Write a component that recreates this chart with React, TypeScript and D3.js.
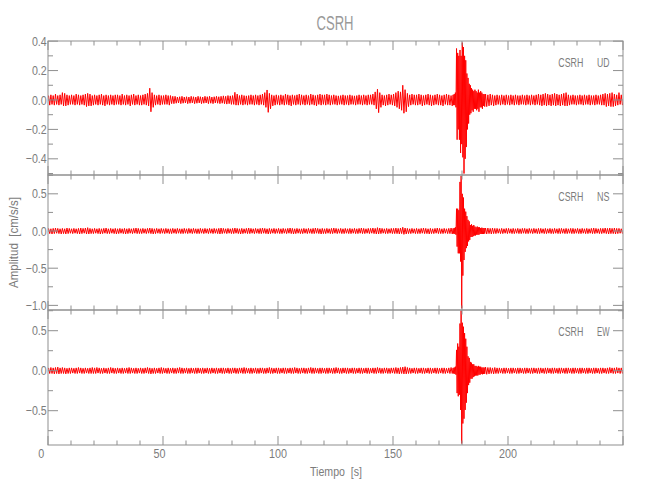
import React from 'react';
import * as d3 from 'd3';

// ---------------- data ----------------
const TITLE = 'CSRH';
const STATION = 'CSRH';
const CHANNELS = ['UD', 'NS', 'EW'];
const X_LABEL = 'Tiempo  [s]';
const Y_LABEL = 'Amplitud  [cm/s/s]';
const TIME_DOMAIN = [0, 250];
const X_TICKS = [0, 50, 100, 150, 200];

// segment timing: pre-event 1 s bins from 0, event 0.5 s bins from 176, post 1 s bins from 190
const PRE_T0 = 0, PRE_DT = 1;
const EV_T0 = 176, EV_DT = 0.5;
const POST_T0 = 190, POST_DT = 1;

// UD
const udDomain = [-0.51, 0.401];
const udTicks = [-0.4, -0.2, 0, 0.2, 0.4];
const udMinor = [-0.5, -0.3, -0.1, 0.1, 0.3];
const udPreHi = [
  0.03,0.035,0.03,0.04,0.03,0.035,0.05,0.045,0.035,0.03,
  0.035,0.03,0.04,0.035,0.03,0.035,0.04,0.045,0.04,0.03,
  0.035,0.03,0.035,0.04,0.03,0.035,0.03,0.035,0.03,0.035,
  0.035,0.03,0.04,0.03,0.035,0.03,0.035,0.04,0.03,0.035,
  0.03,0.035,0.04,0.045,0.08,0.05,0.035,0.03,0.035,0.03,
  0.03,0.035,0.03,0.03,0.025,0.025,0.02,0.022,0.025,0.02,
  0.022,0.02,0.025,0.022,0.02,0.025,0.022,0.02,0.025,0.022,
  0.025,0.02,0.022,0.025,0.022,0.025,0.028,0.025,0.03,0.028,
  0.03,0.052,0.04,0.03,0.035,0.03,0.028,0.03,0.035,0.03,
  0.035,0.03,0.035,0.04,0.05,0.068,0.045,0.035,0.03,0.035,
  0.03,0.035,0.03,0.04,0.035,0.03,0.035,0.03,0.035,0.04,
  0.035,0.03,0.035,0.03,0.04,0.035,0.03,0.035,0.04,0.035,
  0.035,0.04,0.035,0.03,0.035,0.03,0.028,0.03,0.035,0.03,
  0.03,0.035,0.03,0.028,0.03,0.035,0.03,0.035,0.03,0.035,
  0.035,0.04,0.055,0.073,0.05,0.035,0.03,0.035,0.04,0.035,
  0.04,0.05,0.06,0.055,0.1,0.07,0.045,0.035,0.04,0.035,
  0.035,0.04,0.035,0.03,0.035,0.04,0.035,0.03,0.035,0.04,
  0.035,0.03,0.035,0.04,0.035,0.03,
];
const udPreLo = [
  -0.035,-0.03,-0.035,-0.03,-0.035,-0.03,-0.04,-0.04,-0.035,-0.03,
  -0.03,-0.035,-0.03,-0.035,-0.03,-0.035,-0.045,-0.04,-0.04,-0.035,
  -0.03,-0.035,-0.03,-0.035,-0.04,-0.03,-0.035,-0.03,-0.035,-0.03,
  -0.03,-0.035,-0.03,-0.035,-0.03,-0.04,-0.03,-0.035,-0.03,-0.035,
  -0.035,-0.03,-0.035,-0.04,-0.08,-0.05,-0.035,-0.03,-0.035,-0.03,
  -0.03,-0.03,-0.035,-0.025,-0.025,-0.022,-0.02,-0.025,-0.022,-0.02,
  -0.025,-0.022,-0.02,-0.025,-0.022,-0.02,-0.025,-0.022,-0.02,-0.025,
  -0.022,-0.025,-0.02,-0.022,-0.025,-0.022,-0.025,-0.028,-0.025,-0.03,
  -0.03,-0.035,-0.035,-0.03,-0.035,-0.03,-0.035,-0.03,-0.03,-0.035,
  -0.03,-0.035,-0.03,-0.035,-0.05,-0.084,-0.06,-0.04,-0.035,-0.03,
  -0.035,-0.03,-0.035,-0.03,-0.035,-0.04,-0.03,-0.035,-0.03,-0.035,
  -0.03,-0.035,-0.03,-0.035,-0.03,-0.035,-0.04,-0.03,-0.035,-0.03,
  -0.035,-0.03,-0.035,-0.03,-0.03,-0.035,-0.03,-0.03,-0.035,-0.03,
  -0.035,-0.03,-0.03,-0.035,-0.03,-0.03,-0.035,-0.03,-0.035,-0.03,
  -0.03,-0.035,-0.06,-0.086,-0.05,-0.035,-0.04,-0.035,-0.03,-0.035,
  -0.04,-0.05,-0.06,-0.07,-0.09,-0.08,-0.045,-0.035,-0.03,-0.035,
  -0.035,-0.03,-0.04,-0.035,-0.03,-0.035,-0.04,-0.035,-0.03,-0.035,
  -0.035,-0.04,-0.03,-0.035,-0.035,-0.04,
];
const udEvHi = [
  0.035,0.04,0.05,0.35,0.32,0.3,0.34,0.3,0.39,0.36,0.3,0.27,0.18,0.15,
  0.11,0.1,0.08,0.07,0.06,0.07,0.06,0.05,0.07,0.05,0.06,0.05,0.04,0.04,
];
const udEvLo = [
  -0.035,-0.035,-0.05,-0.27,-0.2,-0.27,-0.36,-0.3,-0.39,-0.5,-0.4,-0.32,-0.2,-0.16,
  -0.1,-0.09,-0.07,-0.08,-0.06,-0.06,-0.07,-0.06,-0.08,-0.05,-0.05,-0.06,-0.04,-0.045,
];
const udPostHi = [
  0.04,0.035,0.04,0.035,0.03,0.035,0.03,0.035,0.03,0.035,
  0.03,0.035,0.03,0.035,0.03,0.03,0.035,0.03,0.035,0.03,
  0.035,0.03,0.035,0.04,0.035,0.04,0.045,0.04,0.035,0.04,
  0.045,0.04,0.035,0.04,0.045,0.05,0.035,0.03,0.035,0.03,
  0.03,0.035,0.03,0.035,0.03,0.035,0.03,0.03,0.035,0.03,
  0.035,0.04,0.045,0.04,0.045,0.05,0.04,0.035,0.05,0.035,
];
const udPostLo = [
  -0.045,-0.04,-0.035,-0.04,-0.035,-0.03,-0.035,-0.03,-0.035,-0.03,
  -0.035,-0.03,-0.035,-0.03,-0.035,-0.03,-0.03,-0.035,-0.03,-0.035,
  -0.03,-0.035,-0.03,-0.035,-0.04,-0.035,-0.04,-0.035,-0.04,-0.035,
  -0.04,-0.035,-0.04,-0.035,-0.04,-0.04,-0.035,-0.03,-0.03,-0.035,
  -0.03,-0.03,-0.035,-0.03,-0.03,-0.035,-0.03,-0.035,-0.03,-0.03,
  -0.035,-0.035,-0.045,-0.04,-0.045,-0.045,-0.04,-0.035,-0.03,-0.035,
];

// NS
const nsDomain = [-1.062, 0.753];
const nsTicks = [-1.0, -0.5, 0, 0.5];
const nsMinor = [-0.75, -0.25, 0.25, 0.75];
const nsPreHi = [
  0.035,0.03,0.035,0.04,0.035,0.03,0.035,0.03,0.04,0.035,
  0.03,0.035,0.03,0.035,0.04,0.035,0.04,0.045,0.035,0.03,
  0.035,0.03,0.035,0.03,0.035,0.04,0.03,0.035,0.03,0.035,
  0.03,0.035,0.03,0.035,0.03,0.035,0.03,0.035,0.04,0.035,
  0.03,0.035,0.03,0.035,0.04,0.035,0.03,0.035,0.03,0.035,
  0.03,0.035,0.03,0.03,0.035,0.03,0.035,0.03,0.03,0.035,
  0.03,0.035,0.03,0.035,0.03,0.03,0.035,0.03,0.035,0.03,
  0.035,0.03,0.035,0.03,0.035,0.04,0.035,0.03,0.035,0.03,
  0.035,0.04,0.035,0.03,0.035,0.03,0.035,0.04,0.035,0.03,
  0.035,0.03,0.035,0.04,0.035,0.03,0.035,0.03,0.035,0.03,
  0.035,0.03,0.035,0.03,0.035,0.04,0.035,0.03,0.035,0.03,
  0.03,0.035,0.03,0.035,0.03,0.035,0.04,0.035,0.03,0.035,
  0.03,0.035,0.03,0.035,0.04,0.035,0.03,0.035,0.03,0.035,
  0.03,0.035,0.03,0.035,0.03,0.035,0.04,0.035,0.03,0.035,
  0.035,0.04,0.035,0.045,0.04,0.035,0.03,0.035,0.03,0.035,
  0.035,0.04,0.035,0.04,0.05,0.04,0.035,0.03,0.035,0.03,
  0.035,0.03,0.035,0.04,0.035,0.03,0.035,0.03,0.035,0.04,
  0.035,0.03,0.035,0.03,0.035,0.04,
];
const nsPreLo = [
  -0.035,-0.04,-0.035,-0.03,-0.035,-0.04,-0.035,-0.04,-0.035,-0.03,
  -0.035,-0.03,-0.035,-0.04,-0.035,-0.03,-0.04,-0.04,-0.035,-0.035,
  -0.03,-0.035,-0.04,-0.035,-0.03,-0.035,-0.035,-0.03,-0.035,-0.04,
  -0.035,-0.03,-0.035,-0.04,-0.035,-0.03,-0.035,-0.03,-0.035,-0.035,
  -0.035,-0.03,-0.035,-0.03,-0.035,-0.04,-0.035,-0.03,-0.035,-0.03,
  -0.035,-0.03,-0.035,-0.035,-0.03,-0.035,-0.03,-0.035,-0.035,-0.03,
  -0.035,-0.03,-0.035,-0.03,-0.035,-0.035,-0.03,-0.035,-0.03,-0.035,
  -0.03,-0.035,-0.03,-0.035,-0.04,-0.035,-0.03,-0.035,-0.03,-0.035,
  -0.035,-0.03,-0.035,-0.04,-0.035,-0.03,-0.035,-0.035,-0.03,-0.035,
  -0.03,-0.035,-0.035,-0.03,-0.035,-0.04,-0.035,-0.03,-0.035,-0.03,
  -0.035,-0.035,-0.03,-0.035,-0.03,-0.035,-0.04,-0.035,-0.03,-0.035,
  -0.035,-0.03,-0.035,-0.03,-0.035,-0.035,-0.03,-0.035,-0.04,-0.035,
  -0.035,-0.03,-0.035,-0.035,-0.03,-0.035,-0.03,-0.035,-0.035,-0.03,
  -0.035,-0.035,-0.03,-0.035,-0.035,-0.03,-0.035,-0.035,-0.03,-0.035,
  -0.03,-0.035,-0.04,-0.04,-0.035,-0.03,-0.035,-0.035,-0.03,-0.035,
  -0.035,-0.035,-0.04,-0.035,-0.045,-0.04,-0.035,-0.035,-0.03,-0.035,
  -0.035,-0.035,-0.03,-0.035,-0.035,-0.04,-0.035,-0.035,-0.03,-0.035,
  -0.035,-0.035,-0.03,-0.035,-0.035,-0.04,
];
const nsEvHi = [
  0.035,0.04,0.05,0.3,0.3,0.28,0.66,0.74,0.5,0.45,0.3,0.26,0.2,0.15,
  0.13,0.08,0.09,0.07,0.08,0.06,0.05,0.06,0.05,0.05,0.04,0.045,0.04,0.04,
];
const nsEvLo = [
  -0.035,-0.04,-0.05,-0.21,-0.3,-0.3,-0.41,-1.04,-0.6,-0.39,-0.28,-0.23,-0.2,-0.14,
  -0.12,-0.08,-0.08,-0.07,-0.06,-0.06,-0.05,-0.05,-0.05,-0.04,-0.04,-0.04,-0.04,-0.035,
];
const nsPostHi = [
  0.04,0.04,0.035,0.04,0.035,0.035,0.03,0.035,0.03,0.035,
  0.035,0.03,0.035,0.03,0.035,0.03,0.035,0.035,0.03,0.035,
  0.03,0.035,0.03,0.035,0.035,0.03,0.035,0.03,0.035,0.03,
  0.035,0.03,0.035,0.035,0.03,0.035,0.03,0.035,0.035,0.03,
  0.035,0.03,0.035,0.03,0.035,0.03,0.035,0.04,0.035,0.03,
  0.035,0.035,0.04,0.035,0.04,0.035,0.04,0.035,0.035,0.03,
];
const nsPostLo = [
  -0.04,-0.035,-0.04,-0.035,-0.035,-0.03,-0.035,-0.035,-0.03,-0.035,
  -0.03,-0.035,-0.035,-0.03,-0.035,-0.035,-0.03,-0.035,-0.035,-0.03,
  -0.035,-0.03,-0.035,-0.035,-0.03,-0.035,-0.035,-0.03,-0.035,-0.035,
  -0.03,-0.035,-0.035,-0.03,-0.035,-0.035,-0.03,-0.035,-0.035,-0.03,
  -0.035,-0.035,-0.03,-0.035,-0.035,-0.03,-0.035,-0.035,-0.03,-0.035,
  -0.035,-0.03,-0.035,-0.04,-0.035,-0.035,-0.04,-0.035,-0.03,-0.035,
];

// EW
const ewDomain = [-0.929, 0.759];
const ewTicks = [-0.5, 0, 0.5];
const ewMinor = [-0.75, -0.25, 0.25, 0.75];
const ewPreHi = [
  0.035,0.04,0.035,0.04,0.045,0.035,0.04,0.035,0.03,0.035,
  0.035,0.03,0.035,0.04,0.035,0.03,0.035,0.03,0.035,0.04,
  0.035,0.04,0.035,0.03,0.035,0.03,0.035,0.04,0.035,0.03,
  0.035,0.03,0.035,0.03,0.035,0.04,0.035,0.03,0.035,0.03,
  0.035,0.03,0.035,0.04,0.035,0.03,0.035,0.03,0.035,0.04,
  0.035,0.03,0.035,0.03,0.035,0.03,0.035,0.04,0.035,0.03,
  0.035,0.03,0.035,0.03,0.035,0.035,0.03,0.035,0.03,0.035,
  0.03,0.035,0.03,0.035,0.03,0.035,0.035,0.03,0.035,0.03,
  0.035,0.035,0.03,0.035,0.035,0.04,0.035,0.03,0.035,0.03,
  0.035,0.03,0.035,0.035,0.03,0.035,0.04,0.035,0.03,0.035,
  0.035,0.03,0.035,0.035,0.03,0.035,0.035,0.04,0.035,0.03,
  0.035,0.035,0.03,0.035,0.04,0.035,0.035,0.03,0.035,0.035,
  0.03,0.035,0.035,0.03,0.035,0.04,0.035,0.03,0.035,0.035,
  0.035,0.03,0.035,0.035,0.03,0.035,0.035,0.03,0.035,0.035,
  0.03,0.035,0.035,0.04,0.035,0.03,0.035,0.035,0.03,0.035,
  0.035,0.04,0.035,0.04,0.045,0.05,0.04,0.035,0.03,0.035,
  0.035,0.03,0.035,0.035,0.03,0.035,0.035,0.03,0.035,0.035,
  0.03,0.035,0.035,0.03,0.035,0.04,
];
const ewPreLo = [
  -0.035,-0.035,-0.04,-0.035,-0.04,-0.035,-0.035,-0.04,-0.035,-0.035,
  -0.03,-0.035,-0.035,-0.03,-0.035,-0.035,-0.03,-0.035,-0.035,-0.035,
  -0.035,-0.03,-0.035,-0.035,-0.03,-0.035,-0.035,-0.03,-0.035,-0.035,
  -0.03,-0.035,-0.035,-0.03,-0.035,-0.035,-0.03,-0.035,-0.035,-0.03,
  -0.035,-0.035,-0.03,-0.035,-0.04,-0.035,-0.035,-0.03,-0.035,-0.035,
  -0.03,-0.035,-0.035,-0.03,-0.035,-0.035,-0.03,-0.035,-0.035,-0.03,
  -0.035,-0.035,-0.03,-0.035,-0.035,-0.03,-0.035,-0.035,-0.03,-0.035,
  -0.035,-0.03,-0.035,-0.035,-0.03,-0.035,-0.035,-0.03,-0.035,-0.035,
  -0.03,-0.035,-0.035,-0.03,-0.035,-0.035,-0.03,-0.035,-0.035,-0.03,
  -0.035,-0.035,-0.03,-0.035,-0.035,-0.03,-0.035,-0.035,-0.03,-0.035,
  -0.035,-0.03,-0.035,-0.035,-0.03,-0.035,-0.035,-0.03,-0.035,-0.035,
  -0.03,-0.035,-0.035,-0.03,-0.035,-0.035,-0.03,-0.035,-0.035,-0.03,
  -0.035,-0.035,-0.03,-0.035,-0.035,-0.03,-0.035,-0.035,-0.03,-0.035,
  -0.035,-0.03,-0.035,-0.035,-0.03,-0.035,-0.035,-0.03,-0.035,-0.035,
  -0.03,-0.035,-0.035,-0.03,-0.035,-0.035,-0.03,-0.035,-0.035,-0.03,
  -0.035,-0.035,-0.04,-0.035,-0.04,-0.04,-0.035,-0.035,-0.03,-0.035,
  -0.035,-0.03,-0.035,-0.035,-0.03,-0.035,-0.035,-0.03,-0.035,-0.035,
  -0.03,-0.035,-0.035,-0.03,-0.035,-0.035,
];
const ewEvHi = [
  0.035,0.04,0.05,0.26,0.34,0.3,0.59,0.75,0.6,0.55,0.47,0.4,0.3,0.18,
  0.16,0.11,0.1,0.08,0.08,0.06,0.06,0.05,0.06,0.05,0.05,0.04,0.04,0.04,
];
const ewEvLo = [
  -0.035,-0.04,-0.05,-0.28,-0.32,-0.3,-0.49,-0.91,-0.66,-0.6,-0.49,-0.4,-0.28,-0.18,
  -0.15,-0.1,-0.1,-0.08,-0.07,-0.06,-0.06,-0.06,-0.05,-0.05,-0.04,-0.045,-0.04,-0.04,
];
const ewPostHi = [
  0.045,0.04,0.04,0.035,0.04,0.035,0.035,0.03,0.035,0.035,
  0.03,0.035,0.035,0.03,0.035,0.035,0.03,0.035,0.035,0.03,
  0.035,0.035,0.03,0.035,0.035,0.03,0.035,0.035,0.03,0.035,
  0.035,0.03,0.035,0.035,0.03,0.035,0.035,0.03,0.035,0.035,
  0.03,0.035,0.035,0.03,0.035,0.035,0.03,0.035,0.035,0.03,
  0.035,0.035,0.03,0.035,0.04,0.035,0.035,0.04,0.035,0.035,
];
const ewPostLo = [
  -0.045,-0.04,-0.035,-0.04,-0.035,-0.035,-0.03,-0.035,-0.035,-0.03,
  -0.035,-0.035,-0.03,-0.035,-0.035,-0.03,-0.035,-0.035,-0.03,-0.035,
  -0.035,-0.03,-0.035,-0.035,-0.03,-0.035,-0.035,-0.03,-0.035,-0.035,
  -0.03,-0.035,-0.035,-0.03,-0.035,-0.035,-0.03,-0.035,-0.035,-0.03,
  -0.035,-0.035,-0.03,-0.035,-0.035,-0.03,-0.035,-0.035,-0.03,-0.035,
  -0.035,-0.03,-0.035,-0.035,-0.03,-0.035,-0.035,-0.03,-0.035,-0.035,
];

// ---------------- layout ----------------
const W = 650, H = 500;
const X0 = 48, X1 = 623;
const PANEL_EDGES = [41, 175, 310, 445];
const AXIS = '#8f8f8f';
const TEXT = '#7c7c7c';
const FONT = "'Liberation Sans', Arial, sans-serif";

type Seg = { t0: number; dt: number; hi: number[]; lo: number[] };

function toPoints(segs: Seg[]): [number, number][] {
  const pts: [number, number][] = [];
  segs.forEach((s) =>
    s.hi.forEach((h, i) => {
      const t = s.t0 + i * s.dt;
      pts.push([t + s.dt * 0.25, h]);
      pts.push([t + s.dt * 0.75, s.lo[i]]);
    })
  );
  return pts;
}

const panelDefs = [
  { domain: udDomain, ticks: udTicks, minor: udMinor, chan: CHANNELS[0],
    segs: [{ t0: PRE_T0, dt: PRE_DT, hi: udPreHi, lo: udPreLo }, { t0: EV_T0, dt: EV_DT, hi: udEvHi, lo: udEvLo }, { t0: POST_T0, dt: POST_DT, hi: udPostHi, lo: udPostLo }] },
  { domain: nsDomain, ticks: nsTicks, minor: nsMinor, chan: CHANNELS[1],
    segs: [{ t0: PRE_T0, dt: PRE_DT, hi: nsPreHi, lo: nsPreLo }, { t0: EV_T0, dt: EV_DT, hi: nsEvHi, lo: nsEvLo }, { t0: POST_T0, dt: POST_DT, hi: nsPostHi, lo: nsPostLo }] },
  { domain: ewDomain, ticks: ewTicks, minor: ewMinor, chan: CHANNELS[2],
    segs: [{ t0: PRE_T0, dt: PRE_DT, hi: ewPreHi, lo: ewPreLo }, { t0: EV_T0, dt: EV_DT, hi: ewEvHi, lo: ewEvLo }, { t0: POST_T0, dt: POST_DT, hi: ewPostHi, lo: ewPostLo }] },
];

const fmt = d3.format('.1f');

export default function App() {
  const x = d3.scaleLinear().domain(TIME_DOMAIN).range([X0, X1]);
  const xMajor = x.ticks(5);
  const xMinor = x.ticks(25).filter((v) => v % 50 !== 0);

  return (
    <svg width={W} height={H} style={{ position: 'absolute', left: 0, top: 0, background: '#fff' }} fontFamily={FONT}>
      <rect x={0} y={0} width={W} height={H} fill="#fff" />
      <text x={335} y={29.5} textAnchor="middle" fontSize={20} fill="#999" textLength={37} lengthAdjust="spacingAndGlyphs">
        {TITLE}
      </text>
      {panelDefs.map((p, k) => {
        const top = PANEL_EDGES[k];
        const bottom = PANEL_EDGES[k + 1];
        const y = d3.scaleLinear().domain(p.domain).range([bottom, top]);
        const line = d3.line<[number, number]>().x((d) => x(d[0])).y((d) => y(d[1]));
        const pts = toPoints(p.segs);
        return (
          <g key={k}>
            <path d={line(pts) || ''} fill="none" stroke="#ff0000" strokeWidth={1} strokeLinejoin="round" />
            <rect x={X0} y={top} width={X1 - X0} height={bottom - top} fill="none" stroke={AXIS} strokeWidth={1} />
            {xMajor.map((v) => (
              <g key={'xm' + v}>
                <line x1={x(v)} x2={x(v)} y1={top} y2={top + 9} stroke={AXIS} />
                <line x1={x(v)} x2={x(v)} y1={bottom} y2={bottom - 9} stroke={AXIS} />
              </g>
            ))}
            {xMinor.map((v) => (
              <g key={'xn' + v}>
                <line x1={x(v)} x2={x(v)} y1={top} y2={top + 4.5} stroke={AXIS} />
                <line x1={x(v)} x2={x(v)} y1={bottom} y2={bottom - 4.5} stroke={AXIS} />
              </g>
            ))}
            {p.ticks.map((v) => (
              <g key={'ym' + v}>
                <line x1={X0} x2={X0 + 10} y1={y(v)} y2={y(v)} stroke={AXIS} />
                <line x1={X1} x2={X1 - 10} y1={y(v)} y2={y(v)} stroke={AXIS} />
                <text transform={`translate(${X0 - 1.3},${y(v) + 4.6}) scale(0.82,1)`} textAnchor="end" fontSize={13} fill={TEXT}>
                  {fmt(v)}
                </text>
              </g>
            ))}
            {p.minor.map((v) => (
              <g key={'yn' + v}>
                <line x1={X0} x2={X0 + 5} y1={y(v)} y2={y(v)} stroke={AXIS} />
                <line x1={X1} x2={X1 - 5} y1={y(v)} y2={y(v)} stroke={AXIS} />
              </g>
            ))}
            <text x={558.3} y={top + 25.5} fontSize={13} fill={TEXT} textLength={25} lengthAdjust="spacingAndGlyphs">
              {STATION}
            </text>
            <text x={597} y={top + 25.5} fontSize={13} fill={TEXT} textLength={12.5} lengthAdjust="spacingAndGlyphs">
              {p.chan}
            </text>
          </g>
        );
      })}
      {X_TICKS.map((v) => {
        const s = String(v);
        return (
          <text key={'xl' + v} transform={`translate(${x(v) - (3 - s.length) * 3.4},${458.3}) scale(0.8,1)`} textAnchor="middle" fontSize={13.5} fill={TEXT}>
            {s}
          </text>
        );
      })}
      <text x={336} y={476} textAnchor="middle" fontSize={13} fill={TEXT} textLength={52} lengthAdjust="spacingAndGlyphs" style={{ whiteSpace: 'pre' }}>
        {X_LABEL}
      </text>
      <text transform={`translate(18,242.5) rotate(-90)`} textAnchor="middle" fontSize={13} fill={TEXT} textLength={91} lengthAdjust="spacingAndGlyphs" style={{ whiteSpace: 'pre' }}>
        {Y_LABEL}
      </text>
    </svg>
  );
}
